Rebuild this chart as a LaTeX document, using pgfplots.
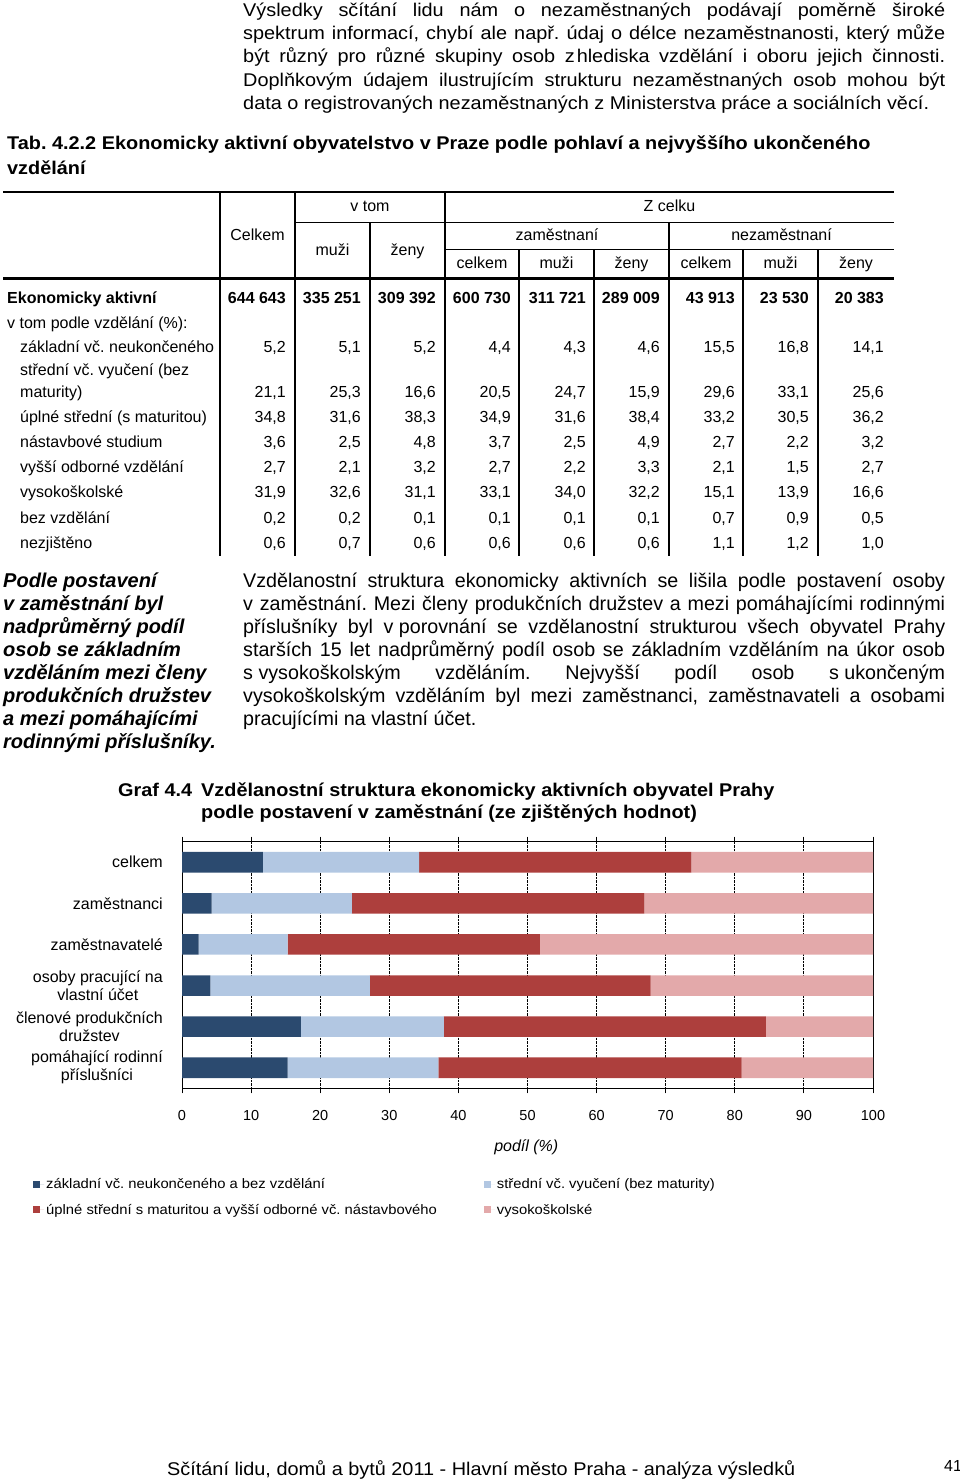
\documentclass[border=0pt]{standalone}
\usepackage{fontspec}
\setmainfont{Liberation Sans}
\newfontfamily\wide[FakeStretch=1.08]{Liberation Sans}
\usepackage{pgfplots}
\pgfplotsset{compat=1.18}
\definecolor{cA}{HTML}{2B4A6F}
\definecolor{cB}{HTML}{B2C7E2}
\definecolor{cC}{HTML}{AD3F3D}
\definecolor{cD}{HTML}{E3A9AA}
\frenchspacing
\newcommand\fs[1]{\fontsize{#1}{#1}\selectfont}
\newcommand\J[1]{\makebox[702pt][s]{#1}}
\newcommand\rowL[7]{%
 \node[#1] at (286,-#2) {#3}; \node[#1] at (361,-#2) {#4};
 \node[#1] at (436,-#2) {#5}; \node[#1] at (511,-#2) {#6};
 \node[#1] at (586,-#2) {#7};}
\newcommand\rowR[6]{%
 \node[#1] at (660,-#2) {#3}; \node[#1] at (735,-#2) {#4};
 \node[#1] at (809,-#2) {#5}; \node[#1] at (884,-#2) {#6};}
\begin{document}
\begin{tikzpicture}[x=1pt,y=1pt,
  L/.style={anchor=base west,inner sep=0pt},
  C/.style={anchor=base,inner sep=0pt,font=\fs{16}},
  num/.style={anchor=base east,inner sep=0pt,font=\fs{16}},
  numB/.style={anchor=base east,inner sep=0pt,font=\bfseries\fs{16}}]
\path[use as bounding box] (0,0) rectangle (960,-1480);
% top paragraph
\begin{scope}[every node/.style={L,font=\wide\fs{18.4}}]
\node at (243,-17) {\J{Výsledky sčítání lidu nám o nezaměstnaných podávají poměrně široké}};
\node at (243,-40) {\J{spektrum informací, chybí ale např. údaj o délce nezaměstnanosti, který může}};
\node at (243,-63) {\J{být různý pro různé skupiny osob \mbox{z\hspace{2pt}hlediska} vzdělání i oboru jejich činnosti.}};
\node at (243,-86) {\J{Doplňkovým údajem ilustrujícím strukturu nezaměstnaných osob mohou být}};
\node at (243,-109) {data o registrovaných nezaměstnaných z Ministerstva práce a sociálních věcí.};
\end{scope}
% table title
\node[L,font=\wide\bfseries\fs{18.4}] at (7,-149) {Tab. 4.2.2 Ekonomicky aktivní obyvatelstvo v Praze podle pohlaví a nejvyššího ukončeného};
\node[L,font=\wide\bfseries\fs{18.4}] at (7,-174) {vzdělání};
% table rules
\draw[line width=2.8pt] (3,-192) -- (894,-192);
\draw[line width=2.8pt] (3,-278.5) -- (894,-278.5);
\draw[line width=1.2pt] (295,-222.7) -- (894,-222.7);
\draw[line width=1.2pt] (445,-249.3) -- (894,-249.3);
\foreach \x in {220,295,445} \draw[line width=1.2pt] (\x,-192) -- (\x,-556);
\foreach \x in {370,669} \draw[line width=1.2pt] (\x,-222.7) -- (\x,-556);
\foreach \x in {519,594,743,818} \draw[line width=1.2pt] (\x,-249.3) -- (\x,-556);
% header
\node[C] at (370,-211.7) {v tom};
\node[C] at (257.5,-240) {Celkem};
\node[C] at (332.5,-255) {muži};
\node[C] at (407.5,-255) {ženy};
\node[C] at (669.5,-211.7) {Z celku};
\node[C] at (557,-240) {zaměstnaní};
\node[C] at (781.5,-240) {nezaměstnaní};
\node[C] at (482,-268) {celkem};
\node[C] at (556.5,-268) {muži};
\node[C] at (631.5,-268) {ženy};
\node[C] at (706,-268) {celkem};
\node[C] at (780.5,-268) {muži};
\node[C] at (856,-268) {ženy};
% row labels
\begin{scope}[every node/.style={L,font=\fs{16}}]
\node at (7,-303) {\bfseries Ekonomicky aktivní};
\node at (7,-328) {v tom podle vzdělání (\%):};
\node at (20,-352) {základní vč. neukončeného};
\node at (20,-375) {střední vč. vyučení (bez};
\node at (20,-397) {maturity)};
\node at (20,-422) {úplné střední (s maturitou)};
\node at (20,-447) {nástavbové studium};
\node at (20,-472) {vyšší odborné vzdělání};
\node at (20,-497) {vysokoškolské};
\node at (20,-523) {bez vzdělání};
\node at (20,-548) {nezjištěno};
\end{scope}
\rowL{numB}{303}{644 643}{335 251}{309 392}{600 730}{311 721}\rowR{numB}{303}{289 009}{43 913}{23 530}{20 383}
\rowL{num}{352}{5,2}{5,1}{5,2}{4,4}{4,3}\rowR{num}{352}{4,6}{15,5}{16,8}{14,1}
\rowL{num}{397}{21,1}{25,3}{16,6}{20,5}{24,7}\rowR{num}{397}{15,9}{29,6}{33,1}{25,6}
\rowL{num}{422}{34,8}{31,6}{38,3}{34,9}{31,6}\rowR{num}{422}{38,4}{33,2}{30,5}{36,2}
\rowL{num}{447}{3,6}{2,5}{4,8}{3,7}{2,5}\rowR{num}{447}{4,9}{2,7}{2,2}{3,2}
\rowL{num}{472}{2,7}{2,1}{3,2}{2,7}{2,2}\rowR{num}{472}{3,3}{2,1}{1,5}{2,7}
\rowL{num}{497}{31,9}{32,6}{31,1}{33,1}{34,0}\rowR{num}{497}{32,2}{15,1}{13,9}{16,6}
\rowL{num}{523}{0,2}{0,2}{0,1}{0,1}{0,1}\rowR{num}{523}{0,1}{0,7}{0,9}{0,5}
\rowL{num}{548}{0,6}{0,7}{0,6}{0,6}{0,6}\rowR{num}{548}{0,6}{1,1}{1,2}{1,0}
% side text
\begin{scope}[every node/.style={L,font=\bfseries\itshape\fs{20}}]
\node at (3,-587) {Podle postavení};
\node at (3,-610) {v zaměstnání byl};
\node at (3,-633) {nadprůměrný podíl};
\node at (3,-656) {osob se základním};
\node at (3,-679) {vzděláním mezi členy};
\node at (3,-702) {produkčních družstev};
\node at (3,-725) {a mezi pomáhajícími};
\node at (3,-748) {rodinnými příslušníky.};
\end{scope}
% main paragraph
\begin{scope}[every node/.style={L,font=\fs{19.7}}]
\node at (243,-587) {\J{Vzdělanostní struktura ekonomicky aktivních se lišila podle postavení osoby}};
\node at (243,-610) {\J{v zaměstnání. Mezi členy produkčních družstev a mezi pomáhajícími rodinnými}};
\node at (243,-633) {\J{příslušníky byl \mbox{v porovnání} se vzdělanostní strukturou všech obyvatel Prahy}};
\node at (243,-656) {\J{starších 15 let nadprůměrný podíl osob se základním vzděláním na úkor osob}};
\node at (243,-679) {\J{\mbox{s vysokoškolským} vzděláním. Nejvyšší podíl osob \mbox{s ukončeným}}};
\node at (243,-702) {\J{vysokoškolským vzděláním byl mezi zaměstnanci, zaměstnavateli a osobami}};
\node at (243,-725) {pracujícími na vlastní účet.};
\end{scope}
% chart title
\node[L,font=\wide\bfseries\fs{18.4}] at (118,-796) {Graf 4.4};
\node[L,font=\wide\bfseries\fs{18.4}] at (201,-796) {Vzdělanostní struktura ekonomicky aktivních obyvatel Prahy};
\node[L,font=\wide\bfseries\fs{18.4}] at (201,-818) {podle postavení v zaměstnání (ze zjištěných hodnot)};
% chart
\begin{axis}[
  at={(182pt,-1088.3pt)}, anchor=south west,
  width=691pt, height=246.6pt, scale only axis,
  xmin=0, xmax=100, ymin=-0.5, ymax=5.5, y dir=reverse,
  xbar stacked, bar width=0.5,
  axis line style={black, line width=1pt},
  xtick={0,10,...,100},
  xticklabels={0,10,20,30,40,50,60,70,80,90,100},
  xticklabel style={font=\fs{14.5}, inner sep=0pt, yshift=-17pt},
  xmajorgrids, major grid style={black, densely dotted, line width=0.9pt},
  tick align=outside, major tick length=5pt, minor tick length=5pt,
  tick style={black, line width=1pt},
  ytick={0,...,5},
  ytick style={draw=none},
  minor ytick={0.5,1.5,2.5,3.5,4.5},
  every minor tick/.append style={draw=black, line width=1pt},
  yticklabels={celkem,zaměstnanci,zaměstnavatelé,{osoby pracující na\\vlastní účet},{členové produkčních\\družstev},{pomáhající rodinní\\příslušníci}},
  yticklabel style={align=center, font=\fontsize{16}{18}\selectfont, inner sep=0pt, xshift=-14pt},
  xlabel={\itshape\fs{16} podíl (\%)},
  xlabel style={at={(axis description cs:0.495,0)}, anchor=base, yshift=-63pt},
  legend columns=2,
  legend cell align=left,
  legend image code/.code={\fill[#1] (0pt,-3.5pt) rectangle (7pt,3.5pt); \path (0pt,0pt) -- (11pt,0pt);},
  legend style={draw=none, fill=none, inner sep=0pt, at={(axis description cs:-0.2156,-0.357)}, anchor=north west, font=\wide\fs{13.7}, row sep=10pt, /tikz/every even column/.append style={column sep=45pt}},
]
\addplot[fill=cA, draw=none] coordinates {(11.7,0) (4.3,1) (2.4,2) (4.1,3) (17.2,4) (15.3,5)};
\addplot[fill=cB, draw=none] coordinates {(22.6,0) (20.3,1) (12.9,2) (23.1,3) (20.7,4) (21.8,5)};
\addplot[fill=cC, draw=none] coordinates {(39.4,0) (42.3,1) (36.5,2) (40.6,3) (46.6,4) (43.9,5)};
\addplot[fill=cD, draw=none] coordinates {(26.3,0) (33.1,1) (48.2,2) (32.2,3) (15.5,4) (19.0,5)};
\legend{základní vč. neukončeného a bez vzdělání, střední vč. vyučení (bez maturity), úplné střední s maturitou a vyšší odborné vč. nástavbového, vysokoškolské}
\end{axis}
% footer
\node[L,font=\wide\fs{18.4}] at (167,-1475) {Sčítání lidu, domů a bytů 2011 - Hlavní město Praha - analýza výsledků};
\node[L,font=\fs{16}] at (944,-1471) {41};
\end{tikzpicture}
\end{document}
